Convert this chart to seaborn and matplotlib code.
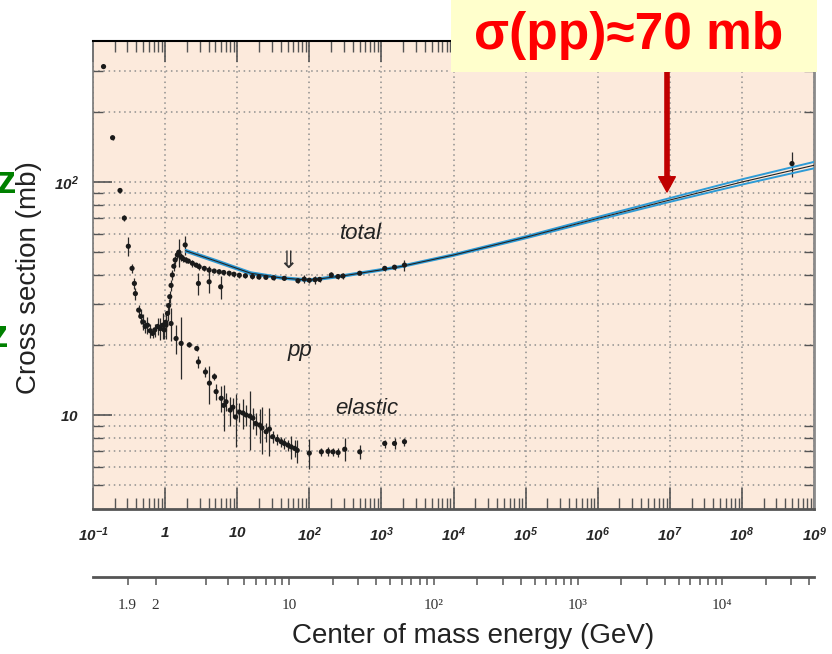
import numpy as np
import pandas as pd
import matplotlib
matplotlib.use("Agg")
import matplotlib.pyplot as plt
import seaborn as sns
from matplotlib.patches import Rectangle
from matplotlib.ticker import NullFormatter

# ---------------- data ----------------
# total cross section: beam momentum p_lab (GeV/c), sigma (mb), error (mb)
total_p = [0.14, 0.187, 0.237, 0.272, 0.309, 0.348, 0.375, 0.387, 0.43, 0.46, 0.49, 0.53,
           0.57, 0.62, 0.67, 0.72, 0.79, 0.86, 0.93, 0.97, 1.02, 1.08, 1.12, 1.16, 1.21,
           1.26, 1.32, 1.38, 1.48, 1.55, 1.65, 1.75, 1.93, 2.1, 2.39, 2.7, 2.97, 3.5,
           4.08, 4.8, 5.62, 6.5, 7.74, 9.0, 10.7, 13.0, 16.3, 20.0, 25.0, 32.0, 45.0,
           69.6, 85.0, 100.0, 120.0, 139.0, 202.0, 250.0, 293.0, 500.0, 1112.0, 1520.0,
           2090.0, 4.95e8, 1.9, 2.9, 4.08, 5.9]
total_sigma = [313, 155, 92, 70, 53, 42.6, 36.7, 33.2, 28.2, 26.5, 25.1, 24.0,
               24.3, 23.0, 22.4, 23.2, 24.0, 23.5, 24.3, 23.2, 25.0, 27.3, 29.5, 32.2, 36.0,
               39.9, 43.5, 46.3, 48.7, 50.0, 47.8, 47.0, 46.3, 45.8, 44.8, 44.0, 43.3, 42.6,
               41.9, 41.5, 41.2, 40.9, 40.6, 40.2, 39.8, 39.6, 39.3, 39.1, 39.0, 38.8, 38.6,
               37.7, 38.3, 37.9, 38.1, 38.2, 39.9, 39.3, 39.5, 40.6, 42.6, 43.1,
               44.0, 120, 53.7, 36.7, 37.3, 35.5]
total_err = [0, 3, 2, 2, 5, 2, 2, 2, 1.5, 2, 2, 1.5,
             2, 1.5, 1, 1.5, 2, 2.5, 3, 2, 2, 2, 2, 2, 2,
             2, 2, 2, 2, 7, 2, 1.5, 1.5, 1, 1.5, 1, 1.5, 1,
             1.5, 1, 1, 1, 1, 1, 1, 1, 1, 0.8, 0.8, 0.8, 0.5,
             0.8, 1.5, 1, 1.5, 1, 1, 1, 1, 0.8, 1, 1,
             2.5, 15, 5, 4, 4, 4]

# elastic cross section
elastic_p = [1.03, 1.21, 1.42, 1.67, 2.17, 2.75, 2.9, 3.63, 4.12, 4.84, 5.1, 6.0, 6.5,
             7.0, 8.0, 8.7, 9.5, 10.7, 12.0, 13.3, 15.0, 16.5, 18.0, 20.4, 22.0, 25.2,
             28.0, 31.0, 36.0, 40.8, 45.0, 50.5, 56.0, 62.6, 68.0, 100.0, 147.0, 182.0,
             213.0, 251.0, 310.0, 501.0, 1112.0, 1520.0, 2090.0]
elastic_sigma = [24.3, 24.7, 21.3, 20.3, 20.0, 19.3, 16.9, 15.3, 13.7, 14.6, 12.6, 11.8, 11.0,
                 11.4, 10.5, 10.8, 9.8, 10.3, 10.2, 10.0, 9.9, 9.7, 9.2, 9.06, 8.8, 8.48,
                 8.7, 8.07, 7.85, 7.68, 7.55, 7.43, 7.3, 7.19, 7.05, 6.86, 6.95, 6.98,
                 6.95, 6.9, 7.13, 6.95, 7.55, 7.55, 7.68]
elastic_err = [3, 4, 3, 6, 0.5, 0.5, 1, 0.8, 2.5, 0.5, 1, 1.5, 2.5,
               1, 1.5, 1, 2.5, 1, 1.5, 1, 2.8, 1, 1, 1.5, 2, 0.8,
               2, 0.5, 0.4, 0.4, 0.4, 0.4, 0.8, 0.6, 0.8, 1.0, 0.3, 0.3,
               0.3, 0.3, 0.8, 0.5, 0.3, 0.4, 0.3]

# fit to the total cross section (centre and band)
fit_p = [1.93, 5.5, 15.4, 40, 100, 300, 1000, 1.8e3, 1e4, 1e5, 1e6, 1e7, 1e8, 1e9]
fit_sigma = [50.7, 45.4, 40.6, 38.8, 37.9, 39.6, 42.0, 43.3, 48.6, 57.9, 69.8, 83.7, 100, 118]
fit_hi = [51.2, 45.9, 41.0, 39.1, 38.2, 39.9, 42.3, 43.6, 49.0, 58.5, 70.8, 85.3, 102.7, 122]
fit_lo = [50.2, 44.9, 40.2, 38.5, 37.6, 39.3, 41.7, 43.0, 48.2, 57.3, 68.8, 82.2, 97.5, 114.5]

# tick labels
x_tick_values = [1e-1, 1, 10, 1e2, 1e3, 1e4, 1e5, 1e6, 1e7, 1e8, 1e9]
x_tick_labels = ["$10^{-1}$", "$1$", "$10$", "$10^{2}$", "$10^{3}$", "$10^{4}$",
                 "$10^{5}$", "$10^{6}$", "$10^{7}$", "$10^{8}$", "$10^{9}$"]
y_tick_values = [10, 100]
y_tick_labels = ["$10$", "$10^{2}$"]
y_minor_values = [5, 6, 7, 8, 9, 20, 30, 40, 50, 60, 70, 80, 90, 200, 300]

# centre-of-mass energy scale (GeV)
cm_major_values = [1.9, 2, 10, 100, 1000, 10000]
cm_major_labels = ["1.9", "2", "10", "10²", "10³", "10⁴"]
cm_minor_values = [3, 4, 5, 6, 7, 8, 9, 20, 30, 40, 50, 60, 70, 80, 90,
                   200, 300, 400, 500, 600, 700, 800, 900,
                   2000, 3000, 4000, 5000, 6000, 7000, 8000, 9000, 20000, 30000, 40000]

# ---------------- styling ----------------
sns.set_style("ticks")
plt.rcParams["font.family"] = ["Liberation Sans", "DejaVu Sans"]
plt.rcParams["mathtext.fontset"] = "custom"
plt.rcParams["mathtext.rm"] = "Liberation Sans:italic:bold"
plt.rcParams["mathtext.it"] = "Liberation Sans:italic:bold"
plt.rcParams["mathtext.bf"] = "Liberation Sans:italic:bold"
plt.rcParams["mathtext.sf"] = "Liberation Sans:italic:bold"

W, H = 832, 654
fig = plt.figure(figsize=(W / 100, H / 100), dpi=100)
fig.patch.set_facecolor("white")


def fx(px):
    return px / W


def fy(py):
    return 1 - py / H


def plab(w):
    m = 0.938272
    w = np.asarray(w, dtype=float)
    e = (w ** 2 - 2 * m ** 2) / (2 * m)
    return np.sqrt(e ** 2 - m ** 2)


ax = fig.add_axes([fx(93), fy(509), fx(814) - fx(93), fy(41) - fy(509)])
ax.set_facecolor("#FCEADC")
ax.set_xscale("log")
ax.set_yscale("log")
ax.set_xlim(0.1, 1e9)
ax.set_ylim(3.95, 403)
ax.set_axisbelow(True)

grid_kw = dict(ls=(0, (1, 2.4)), color="#8f8f8f", lw=1.1)
ax.xaxis.grid(True, which="major", **grid_kw)
ax.yaxis.grid(True, which="both", **grid_kw)

# error bars
ax.errorbar(total_p, total_sigma, yerr=total_err, fmt="none", ecolor="#2a2a2a",
            elinewidth=0.9, capsize=0, zorder=3)
ax.errorbar(elastic_p, elastic_sigma, yerr=elastic_err, fmt="none", ecolor="#2a2a2a",
            elinewidth=0.9, capsize=0, zorder=3)

# fit band
blue = "#2E9BD6"
sns.lineplot(x=fit_p, y=fit_hi, ax=ax, color=blue, lw=1.4, zorder=4, legend=False)
sns.lineplot(x=fit_p, y=fit_lo, ax=ax, color=blue, lw=1.4, zorder=4, legend=False)
sns.lineplot(x=fit_p, y=fit_sigma, ax=ax, color="#222222", lw=0.8, zorder=5, legend=False)

# data points
sns.scatterplot(x=total_p, y=total_sigma, ax=ax, color="#1a1a1a", s=14,
                edgecolor="none", zorder=6, legend=False)
sns.scatterplot(x=elastic_p, y=elastic_sigma, ax=ax, color="#1a1a1a", s=14,
                edgecolor="none", zorder=6, legend=False)

# ticks
ax.set_xticks(x_tick_values, x_tick_labels, fontsize=11)
ax.set_xticks([k * 10.0 ** d for d in range(-1, 9) for k in range(2, 10)], minor=True)
ax.set_yticks(y_tick_values, y_tick_labels, fontsize=11)
ax.set_yticks(y_minor_values, minor=True)
ax.xaxis.set_minor_formatter(NullFormatter())
ax.yaxis.set_minor_formatter(NullFormatter())
ax.tick_params(axis="x", which="major", direction="in", length=15, width=1.2,
               top=True, bottom=True, color="#555555", pad=12)
ax.tick_params(axis="x", which="minor", direction="in", length=8, width=1.0,
               top=True, bottom=True, color="#555555")
ax.tick_params(axis="y", which="major", direction="in", length=14, width=1.2,
               left=True, right=False, color="#555555", pad=10)
ax.tick_params(axis="y", which="minor", direction="in", length=7, width=1.0,
               left=True, right=True, color="#555555")

ax.spines["top"].set_color("black")
ax.spines["top"].set_linewidth(1.5)
ax.spines["left"].set_color("#777777")
ax.spines["left"].set_linewidth(1.2)
ax.spines["bottom"].set_color("#555555")
ax.spines["bottom"].set_linewidth(2.0)
ax.spines["right"].set_color("#8a8a8a")
ax.spines["right"].set_linewidth(2.0)
ax.set_xlabel("")
ax.set_ylabel("")

# in-plot labels
ax.text(525, 60.3, "total", fontsize=16, style="italic", ha="center", va="center", color="#222")
ax.text(73, 19.0, "pp", fontsize=16, style="italic", ha="center", va="center", color="#222")
ax.text(618, 10.7, "elastic", fontsize=16, style="italic", ha="center", va="center", color="#222")
ax.text(50, 46, "⇓", fontsize=17, ha="center", va="center", color="#333",
        family=["DejaVu Sans"])

# centre-of-mass energy axis
ax2 = fig.add_axes([fx(93), fy(577), fx(814) - fx(93), 0.0001])
ax2.set_xscale("log")
ax2.set_xlim(0.1, 1e9)
ax2.patch.set_visible(False)
for s in ["top", "left", "right"]:
    ax2.spines[s].set_visible(False)
ax2.spines["bottom"].set_color("#555555")
ax2.spines["bottom"].set_linewidth(2.0)
ax2.set_yticks([])
ax2.set_xticks(plab(cm_major_values), cm_major_labels, fontsize=11,
               family=["Liberation Serif", "DejaVu Serif"], color="#333333")
ax2.set_xticks(plab(cm_minor_values), minor=True)
ax2.xaxis.set_minor_formatter(NullFormatter())
ax2.tick_params(axis="x", which="both", direction="out", length=6, width=1.1,
                color="#555555", pad=10)

# axis titles
fig.text(fx(473), fy(636), "Center of mass energy (GeV)", fontsize=20,
         ha="center", va="center", color="#222")
fig.text(fx(29), fy(278), "Cross section (mb)", fontsize=20, rotation=90,
         ha="center", va="center", color="#222")

# green letters at the slide edge
fig.text(fx(16), fy(193), "z", fontsize=28, fontweight="bold", color="#008000",
         ha="right", va="baseline")
fig.text(fx(8), fy(347), "z", fontsize=28, fontweight="bold", color="#008000",
         ha="right", va="baseline")

# annotation box
fig.patches.append(Rectangle((fx(451), fy(72)), fx(817) - fx(451), fy(0) - fy(72),
                             transform=fig.transFigure, facecolor="#FFFFCC",
                             edgecolor="none", zorder=10))
fig.text(fx(629), fy(36), "σ(pp)≈70 mb", fontsize=37, fontweight="bold",
         color="#FF0000", ha="center", va="center", zorder=11)
ax.annotate("", xy=(667, H - 192), xytext=(667, H - 72), xycoords="figure pixels",
            textcoords="figure pixels", annotation_clip=False, zorder=12,
            arrowprops=dict(facecolor="#C00000", edgecolor="#C00000", width=3,
                            headwidth=12, headlength=11, shrink=0))

fig.savefig("out.png", dpi=100)
